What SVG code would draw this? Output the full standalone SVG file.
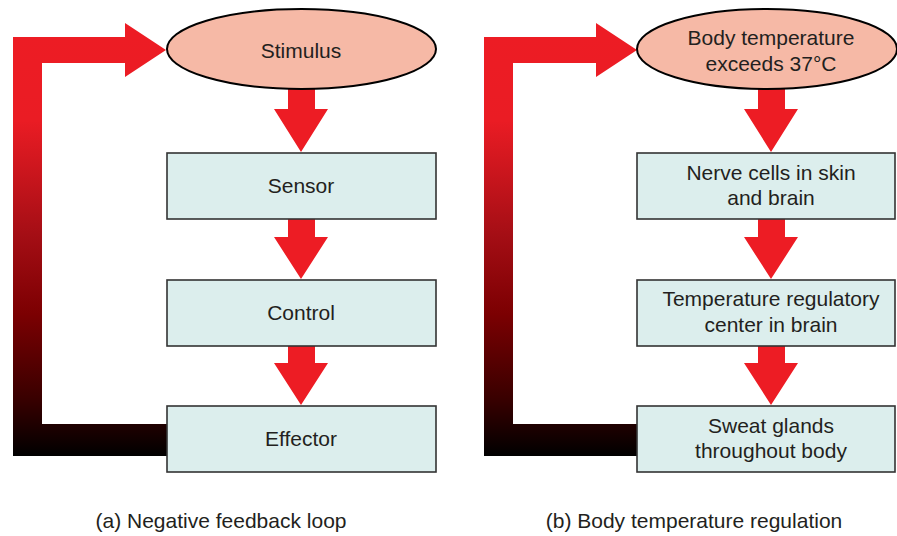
<svg xmlns="http://www.w3.org/2000/svg" width="897" height="536" viewBox="0 0 897 536">
<style>
text{font-family:"Liberation Sans",Arial,sans-serif;font-size:21px;fill:#231F20;text-anchor:middle}
.ell{fill:#F6B9A6;stroke:#000;stroke-width:2}
.box{fill:#DCEEED;stroke:#333;stroke-width:1.6}
.arr{fill:#ED1C24}
</style>
<defs>
<linearGradient id="fb" gradientUnits="userSpaceOnUse" x1="0" y1="37" x2="0" y2="456">
<stop offset="0" stop-color="#ED1C24"/>
<stop offset="0.2" stop-color="#EA1C24"/>
<stop offset="0.47" stop-color="#A50E15"/>
<stop offset="0.66" stop-color="#7C0002"/>
<stop offset="0.86" stop-color="#3A0000"/>
<stop offset="1" stop-color="#000"/>
</linearGradient>
</defs>
<rect width="897" height="536" fill="#fff"/>
<g id="connectors">
<path fill="url(#fb)" d="M13,456 V37 H125 V23 L166,50 L125,77 V63 H42 V424 H167 V456 Z"/>
<path class="arr" d="M288,88 H315 V109 H328 L301,152 L274,109 H288 Z"/>
<path class="arr" d="M288,219 H315 V237 H328 L301,279 L274,237 H288 Z"/>
<path class="arr" d="M288,346 H315 V363 H328 L301,405 L274,363 H288 Z"/>
<g transform="translate(471,0)"><path fill="url(#fb)" d="M13,456 V37 H125 V23 L166,50 L125,77 V63 H42 V424 H167 V456 Z"/></g>
<path class="arr" d="M758,88 H785 V109 H798 L771,152 L744,109 H758 Z"/>
<path class="arr" d="M758,219 H785 V237 H798 L771,279 L744,237 H758 Z"/>
<path class="arr" d="M758,346 H785 V363 H798 L771,405 L744,363 H758 Z"/>
</g>
<g id="stimulus"><ellipse class="ell" cx="301.5" cy="49" rx="134.5" ry="40"/><text x="301" y="58">Stimulus</text></g>
<g id="sensor"><rect class="box" x="167" y="153" width="269" height="66"/><text x="301" y="193">Sensor</text></g>
<g id="control"><rect class="box" x="167" y="280" width="269" height="66"/><text x="301" y="320">Control</text></g>
<g id="effector"><rect class="box" x="167" y="406" width="269" height="66"/><text x="301" y="446">Effector</text></g>
<g id="body-temp"><ellipse class="ell" cx="767" cy="49" rx="130" ry="40"/><text x="771" y="45">Body temperature</text><text x="771" y="71">exceeds 37°C</text></g>
<g id="nerve-cells"><rect class="box" x="637" y="153" width="258" height="66"/><text x="771" y="180">Nerve cells in skin</text><text x="771" y="205">and brain</text></g>
<g id="reg-center"><rect class="box" x="637" y="280" width="258" height="66"/><text x="771" y="306">Temperature regulatory</text><text x="771" y="332">center in brain</text></g>
<g id="sweat"><rect class="box" x="637" y="406" width="258" height="66"/><text x="771" y="433">Sweat glands</text><text x="771" y="458">throughout body</text></g>
<g id="captions"><text x="221" y="528">(a) Negative feedback loop</text><text x="694" y="528">(b) Body temperature regulation</text></g>
</svg>
